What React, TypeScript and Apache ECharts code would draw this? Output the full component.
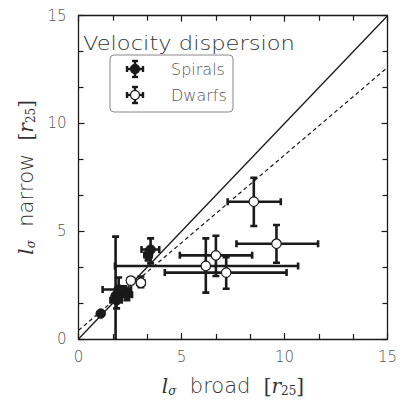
import React, { useEffect, useRef } from "react";
import * as echarts from "echarts";

// [x, y, xLow, xHigh, yLow, yHigh]
const spirals: number[][] = [
  [1.08, 1.18, 1.08, 1.08, 1.18, 1.18],
  [1.8, 2.0, 1.8, 1.8, -0.75, 4.75],
  [1.85, 1.8, 1.55, 2.1, 1.42, 2.15],
  [1.95, 2.3, 1.17, 2.55, 1.75, 2.85],
  [2.2, 2.2, 1.95, 2.45, 2.0, 2.45],
  [2.35, 2.05, 2.1, 2.6, 1.8, 2.3],
  [3.38, 3.9, 3.2, 3.55, 3.65, 4.15],
  [3.5, 4.15, 3.06, 3.92, 3.51, 4.67],
];
const dwarfs: number[][] = [
  [8.51, 6.37, 7.24, 9.82, 5.24, 7.48],
  [9.61, 4.42, 7.67, 11.63, 3.54, 5.29],
  [6.67, 3.88, 4.92, 8.43, 2.92, 4.79],
  [6.18, 3.39, 1.77, 10.66, 2.15, 4.67],
  [7.17, 3.08, 4.19, 10.1, 2.33, 3.79],
  [2.54, 2.71, 2.4, 2.7, 2.55, 2.85],
  [3.03, 2.61, 2.85, 3.2, 2.4, 2.9],
];
const oneToOne: number[][] = [[0, 0], [15, 15]];
const fitLine: number[][] = [[0, 0.4], [15, 12.6]];
const axisMin = 0;
const axisMax = 15;
const tickStep = 5;
const titleText = "Velocity dispersion";
const legendNames = ["Spirals", "Dwarfs"];

const FONT = "'DejaVu Sans', sans-serif";
const FW = 200;
const INK = "#1a1a1a";

function errRender(params: any, api: any) {
  const x = api.value(0), y = api.value(1);
  const xl = api.value(2), xh = api.value(3), yl = api.value(4), yh = api.value(5);
  const c = api.coord([x, y]);
  const pxl = api.coord([xl, y]);
  const pxh = api.coord([xh, y]);
  const pyl = api.coord([x, yl]);
  const pyh = api.coord([x, yh]);
  const cap = 3.5;
  const style = { stroke: INK, lineWidth: 2.6 };
  const children: any[] = [];
  if (xh > xl) {
    children.push({ type: "line", shape: { x1: pxl[0], y1: c[1], x2: pxh[0], y2: c[1] }, style });
    children.push({ type: "line", shape: { x1: pxl[0], y1: c[1] - cap, x2: pxl[0], y2: c[1] + cap }, style });
    children.push({ type: "line", shape: { x1: pxh[0], y1: c[1] - cap, x2: pxh[0], y2: c[1] + cap }, style });
  }
  if (yh > yl) {
    children.push({ type: "line", shape: { x1: c[0], y1: pyl[1], x2: c[0], y2: pyh[1] }, style });
    children.push({ type: "line", shape: { x1: c[0] - cap, y1: pyl[1], x2: c[0] + cap, y2: pyl[1] }, style });
    children.push({ type: "line", shape: { x1: c[0] - cap, y1: pyh[1], x2: c[0] + cap, y2: pyh[1] }, style });
  }
  return { type: "group", children };
}

function legendMarker(cx: number, cy: number, filled: boolean) {
  const s = { stroke: INK, lineWidth: 2.4 };
  const a = 8, cap = 3;
  return [
    { type: "line", shape: { x1: cx - a, y1: cy, x2: cx + a, y2: cy }, style: s },
    { type: "line", shape: { x1: cx, y1: cy - a, x2: cx, y2: cy + a }, style: s },
    { type: "line", shape: { x1: cx - a, y1: cy - cap, x2: cx - a, y2: cy + cap }, style: s },
    { type: "line", shape: { x1: cx + a, y1: cy - cap, x2: cx + a, y2: cy + cap }, style: s },
    { type: "line", shape: { x1: cx - cap, y1: cy - a, x2: cx + cap, y2: cy - a }, style: s },
    { type: "line", shape: { x1: cx - cap, y1: cy + a, x2: cx + cap, y2: cy + a }, style: s },
    { type: "circle", shape: { cx, cy, r: 4.5 }, style: { fill: filled ? INK : "#fff", stroke: INK, lineWidth: 1.2 } },
  ];
}

const nameRich = {
  i: { fontFamily: "'DejaVu Serif', serif", fontStyle: "italic", fontSize: 20, color: "#333", verticalAlign: "middle", lineHeight: 22 },
  s: { fontFamily: "'DejaVu Serif', serif", fontStyle: "italic", fontSize: 12, color: "#333", verticalAlign: "middle", lineHeight: 12, padding: [10, 0, 0, 0] },
  n: { fontFamily: "'DejaVu Serif', serif", fontSize: 12, color: "#333", verticalAlign: "middle", lineHeight: 12, padding: [10, 0, 0, 0] },
  b: { fontFamily: "'DejaVu Serif', serif", fontWeight: 200, fontSize: 20, color: "#333", verticalAlign: "middle", lineHeight: 22 },
  t: { fontFamily: FONT, fontWeight: FW, fontSize: 21, color: "#333", verticalAlign: "middle", lineHeight: 22 },
};

export default function App() {
  const ref = useRef<HTMLDivElement>(null);
  useEffect(() => {
    if (!ref.current) return;
    const chart = echarts.init(ref.current, undefined, { renderer: "svg" });
    const axisCommon = {
      type: "value",
      min: axisMin,
      max: axisMax,
      interval: tickStep,
      splitLine: { show: false },
      axisLine: { show: true, onZero: false, lineStyle: { color: INK, width: 1.3 } },
      axisTick: { show: true, inside: true, length: 6, lineStyle: { color: INK, width: 1.2 } },
      minorTick: { show: true, splitNumber: 3, length: 5, lineStyle: { color: INK, width: 1.2 } },
      axisLabel: { fontFamily: FONT, fontWeight: FW, fontSize: 15, color: "#555" },
    };
    chart.setOption({
      animation: false,
      grid: { left: 78.5, right: 17.5, top: 15.7, bottom: 66, containLabel: false },
      xAxis: [
        {
          ...axisCommon,
          position: "bottom",
          axisLabel: { ...axisCommon.axisLabel, margin: 10 },
          name: "{i|l}{s|σ}{t|  broad  }{b|[}{i|r}{n|25}{b|]}",
          nameLocation: "middle",
          nameGap: 36,
          nameTextStyle: { rich: nameRich },
        },
        { ...axisCommon, position: "top", axisLabel: { show: false } },
      ],
      yAxis: [
        {
          ...axisCommon,
          position: "left",
          axisLabel: { ...axisCommon.axisLabel, margin: 12 },
          name: "{i|l}{s|σ}{t|  narrow  }{b|[}{i|r}{n|25}{b|]}",
          nameLocation: "middle",
          nameGap: 25,
          nameTextStyle: { rich: nameRich },
        },
        { ...axisCommon, position: "right", axisLabel: { show: false } },
      ],
      graphic: [
        {
          type: "text",
          x: 83,
          y: 43,
          scaleX: 1.13,
          style: { text: titleText, fontFamily: FONT, fontWeight: FW, fontSize: 20, fill: "#333", verticalAlign: "middle" },
          z: 100,
        },
        {
          type: "rect",
          shape: { x: 110, y: 55, width: 123, height: 57, r: 4 },
          style: { fill: "#fff", stroke: "#888", lineWidth: 1 },
          z: 100,
        },
        ...legendMarker(135, 69, true).map((e) => ({ ...e, z: 101 })),
        ...legendMarker(135, 95, false).map((e) => ({ ...e, z: 101 })),
        {
          type: "text",
          x: 171,
          y: 69,
          style: { text: legendNames[0], fontFamily: FONT, fontWeight: FW, fontSize: 16, fill: "#555", verticalAlign: "middle" },
          z: 101,
        },
        {
          type: "text",
          x: 171,
          y: 95,
          style: { text: legendNames[1], fontFamily: FONT, fontWeight: FW, fontSize: 16, fill: "#555", verticalAlign: "middle" },
          z: 101,
        },
      ],
      series: [
        {
          type: "line",
          data: oneToOne,
          symbol: "none",
          lineStyle: { color: INK, width: 1.3 },
          z: 1,
        },
        {
          type: "line",
          data: fitLine,
          symbol: "none",
          lineStyle: { color: INK, width: 1.2, type: [4, 3] },
          z: 1,
        },
        { type: "custom", data: spirals, renderItem: errRender, clip: true, z: 2 },
        { type: "custom", data: dwarfs, renderItem: errRender, clip: true, z: 2 },
        {
          type: "scatter",
          data: spirals.map((d) => [d[0], d[1]]),
          symbolSize: 9.5,
          itemStyle: { color: INK, borderColor: INK, borderWidth: 1, opacity: 1 },
          z: 3,
        },
        {
          type: "scatter",
          data: dwarfs.map((d) => [d[0], d[1]]),
          symbolSize: 9.5,
          itemStyle: { color: "#fff", borderColor: INK, borderWidth: 1.2, opacity: 1 },
          z: 3,
        },
      ],
    });
    return () => chart.dispose();
  }, []);
  return <div ref={ref} style={{ width: 405, height: 405, position: "absolute", left: 0, top: 0 }} />;
}
